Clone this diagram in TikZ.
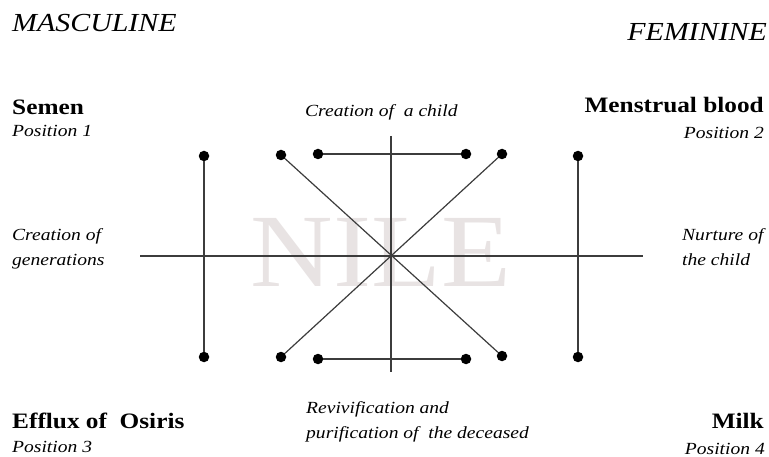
\documentclass[tikz,border=0pt]{standalone}
\usepackage{fontspec}
\setmainfont{Liberation Serif}[FakeStretch=1.15]
\newfontfamily\wmfont{Liberation Serif}[FakeStretch=1.1]
\definecolor{linegray}{HTML}{3C3C3C}
\definecolor{wmark}{HTML}{E8E3E3}
\begin{document}
\begin{tikzpicture}[x=1pt,y=-1pt,
  dot/.style={circle,fill=black,minimum size=10.5pt,inner sep=0pt},
  conn/.style={draw=linegray,line width=1.2pt},
  axisline/.style={draw=linegray,line width=1.1pt},
  headtxt/.style={font=\fontsize{26}{30}\selectfont\itshape,inner sep=0pt},
  ttltxt/.style={font=\fontsize{22}{26}\selectfont\bfseries,inner sep=0pt},
  postxt/.style={font=\fontsize{17}{20}\selectfont\itshape,inner sep=0pt},
  labtxt/.style={font=\fontsize{17}{25}\selectfont\itshape,inner sep=0pt,align=left}]
\useasboundingbox (0,0) rectangle (769,457);
% watermark
\node[font=\fontsize{104}{110}\selectfont\wmfont,text=wmark,anchor=base,inner sep=0pt] (nile) at (381,287) {NILE};
% axes
\coordinate (vt) at (391,136);
\coordinate (vb) at (391,372);
\coordinate (hl) at (140,256);
\coordinate (hr) at (643,256);
\draw[axisline] (vt) -- (vb);
\draw[axisline] (hl) -- (hr);
% dots
\node[dot] (a1) at (204,156) {};
\node[dot] (a2) at (204,357) {};
\node[dot] (b1) at (281,155) {};
\node[dot] (b2) at (281,357) {};
\node[dot] (c1) at (318,154) {};
\node[dot] (c2) at (466,154) {};
\node[dot] (c3) at (318,359) {};
\node[dot] (c4) at (466,359) {};
\node[dot] (d1) at (502,154) {};
\node[dot] (d2) at (502,356) {};
\node[dot] (e1) at (578,156) {};
\node[dot] (e2) at (578,357) {};
% connectors
\draw[conn] (a1) -- (a2);
\draw[conn] (e1) -- (e2);
\draw[conn] (c1) -- (c2);
\draw[conn] (c3) -- (c4);
\draw[conn] (b1) -- (d2);
\draw[conn] (d1) -- (b2);
% texts
\node[headtxt,anchor=base west] (masc) at (12,32) {MASCULINE};
\node[headtxt,anchor=base east] (fem) at (767,41) {FEMININE};
\node[ttltxt,anchor=base west] (semen) at (12,115) {Semen};
\node[postxt,anchor=base west] (p1) at (12,137) {Position 1};
\node[ttltxt,anchor=base east] (mens) at (764,113) {Menstrual blood};
\node[postxt,anchor=base east] (p2) at (764,139) {Position 2};
\node[ttltxt,anchor=base west] (efflux) at (12,428) {Efflux of~ Osiris};
\node[postxt,anchor=base west] (p3) at (12,452) {Position 3};
\node[ttltxt,anchor=base east] (milk) at (764,428) {Milk};
\node[postxt,anchor=base east] (p4) at (765,454) {Position 4};
\node[postxt,anchor=base west] (child) at (305,117) {Creation of~ a child};
\node[labtxt,anchor=north west] (gen) at (12,228) {Creation of\\generations};
\node[labtxt,anchor=north west] (nurt) at (682,228) {Nurture of\\the child};
\node[labtxt,anchor=north west] (reviv) at (306,401) {Revivification and\\purification of~ the deceased};
\end{tikzpicture}
\end{document}
